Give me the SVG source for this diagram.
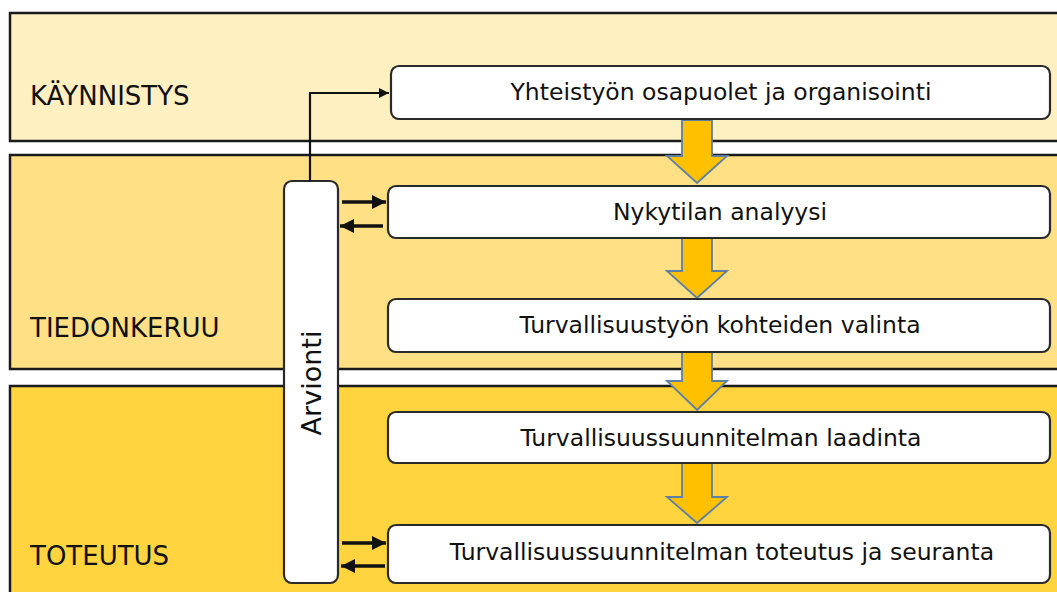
<svg xmlns="http://www.w3.org/2000/svg" width="1057" height="592" viewBox="0 0 1057 592">
<defs>
<style>
.band{stroke:#1a1a1a;stroke-width:2.5}
.node{fill:#ffffff;stroke:#2a2a2a;stroke-width:2.2}
.lbl{font-family:"DejaVu Sans",Verdana,sans-serif;font-size:26px;fill:#111}
.ntxt{font-family:"DejaVu Sans",Verdana,sans-serif;font-size:23.5px;fill:#111;text-anchor:middle}
.big{fill:#FFC000;stroke:#5B7FA6;stroke-width:1.8;stroke-linejoin:miter}
.con{fill:none;stroke:#111;stroke-width:2.2}
.sm{fill:none;stroke:#111;stroke-width:3.5}
</style>
<marker id="ah" viewBox="0 0 10 10" refX="10" refY="5" markerWidth="11" markerHeight="10" orient="auto" markerUnits="userSpaceOnUse">
<path d="M0,0 L10,5 L0,10 z" fill="#111"/>
</marker>
<marker id="ah2" viewBox="0 0 10 10" refX="10" refY="5" markerWidth="4" markerHeight="4" orient="auto">
<path d="M0,0 L10,5 L0,10 z" fill="#111"/>
</marker>
</defs>
<rect width="1057" height="592" fill="#ffffff"/>
<g id="phase-kaynnistys">
<rect class="band" x="10" y="13" width="1060" height="128" fill="#FFF0C1"/>
<text class="lbl" x="30" y="105">KÄYNNISTYS</text>
</g>
<g id="phase-tiedonkeruu">
<rect class="band" x="10" y="155" width="1060" height="214" fill="#FFE084"/>
<text class="lbl" x="30" y="337">TIEDONKERUU</text>
</g>
<g id="phase-toteutus">
<rect class="band" x="10" y="386" width="1060" height="220" fill="#FFD43F"/>
<text class="lbl" x="30" y="565">TOTEUTUS</text>
</g>
<g id="flow-arrows">
<path class="big" d="M682,120 H712 V156 H727 L697,183 L667,156 H682 Z"/>
<path class="big" d="M682,238 H712 V271 H727 L697,298 L667,271 H682 Z"/>
<path class="big" d="M682,352 H712 V381 H727 L697,410 L667,381 H682 Z"/>
<path class="big" d="M682,463 H712 V497 H727 L697,523 L667,497 H682 Z"/>
</g>
<g id="node-yhteistyo">
<rect class="node" x="391" y="66" width="659" height="53" rx="8"/>
<text class="ntxt" x="721" y="100">Yhteistyön osapuolet ja organisointi</text>
</g>
<g id="node-nykytila">
<rect class="node" x="388" y="186" width="662" height="52" rx="8"/>
<text class="ntxt" x="720" y="220">Nykytilan analyysi</text>
</g>
<g id="node-kohteet">
<rect class="node" x="388" y="299" width="662" height="53" rx="8"/>
<text class="ntxt" x="720" y="333">Turvallisuustyön kohteiden valinta</text>
</g>
<g id="node-laadinta">
<rect class="node" x="388" y="412" width="662" height="51" rx="8"/>
<text class="ntxt" x="721" y="446">Turvallisuussuunnitelman laadinta</text>
</g>
<g id="node-toteutus">
<rect class="node" x="388" y="525" width="662" height="58" rx="8"/>
<text class="ntxt" x="722" y="560">Turvallisuussuunnitelman toteutus ja seuranta</text>
</g>
<g id="node-arvionti">
<rect class="node" x="284" y="181" width="54" height="402" rx="8"/>
<text class="ntxt" style="font-size:27px" transform="translate(321,383) rotate(-90)">Arvionti</text>
</g>
<g id="connectors">
<path class="con" d="M310,181 V93 H389" marker-end="url(#ah)"/>
<path class="sm" d="M342,202 H386" marker-end="url(#ah2)"/>
<path class="sm" d="M383,226 H340" marker-end="url(#ah2)"/>
<path class="sm" d="M342,543 H386" marker-end="url(#ah2)"/>
<path class="sm" d="M385,566 H341" marker-end="url(#ah2)"/>
</g>
</svg>
